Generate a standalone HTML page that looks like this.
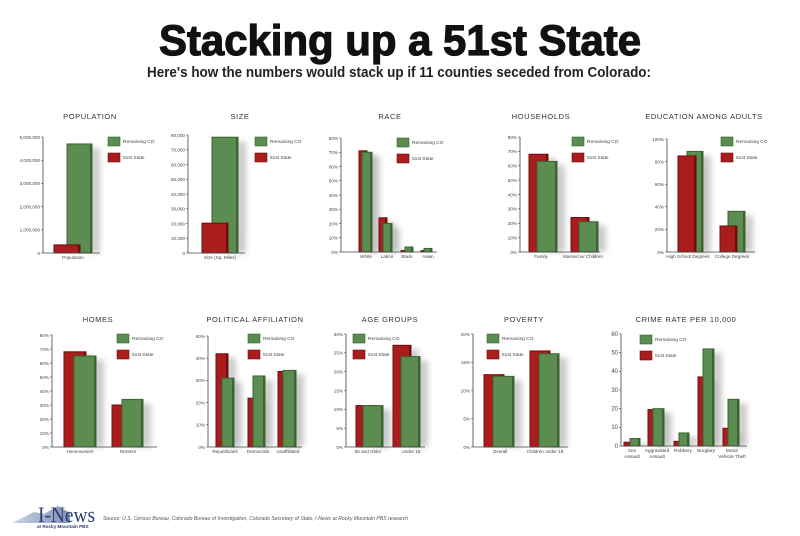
<!DOCTYPE html>
<html><head><meta charset="utf-8"><style>
html,body{margin:0;padding:0;background:#fff;}
svg{display:block;font-family:"Liberation Sans",sans-serif;}
</style></head><body>
<svg id="s" width="800" height="536" viewBox="0 0 800 536" xmlns="http://www.w3.org/2000/svg">
<defs>
<filter id="sh" x="-50%" y="-20%" width="250%" height="140%"><feGaussianBlur stdDeviation="3"/></filter>
<linearGradient id="mt" x1="0" y1="0" x2="1" y2="0"><stop offset="0" stop-color="#c9d3e3"/><stop offset="1" stop-color="#7f93b5"/></linearGradient>
</defs>
<text x="400" y="55" text-anchor="middle" font-size="43" font-weight="bold" fill="#111" textLength="482" lengthAdjust="spacingAndGlyphs" stroke="#111" stroke-width="1.2">Stacking up a 51st State</text>
<text x="399" y="77" text-anchor="middle" font-size="14.5" font-weight="bold" fill="#222" textLength="504" lengthAdjust="spacingAndGlyphs">Here's how the numbers would stack up if 11 counties seceded from Colorado:</text>
<g id="charts"></g>
<polygon points="12,523 34,512 44,514 58,506 70,513 70,523" fill="url(#mt)"/>
<text x="38" y="522" font-family="Liberation Serif,serif" font-size="22" fill="#2b3c73" textLength="57" lengthAdjust="spacingAndGlyphs">I-News</text>
<text x="37" y="528" font-size="4.6" font-weight="bold" fill="#2b3c73">at Rocky Mountain PBS</text>
<text x="103" y="520" font-size="5.2" font-style="italic" fill="#555" textLength="305" lengthAdjust="spacingAndGlyphs">Source: U.S. Census Bureau, Colorado Bureau of Investigation, Colorado Secretary of State, I-News at Rocky Mountain PBS research</text>
</svg>
<script>
var G='#5b8c50',GD='#3b6432',R='#a91d1d',RD='#6f0d0d';
var charts=[
{t:'POPULATION',tx:90,ty:119,ax:43,top:137,bot:253,max:5000000,step:1000000,fmt:function(v){return v.toLocaleString('en-US')},xe:100,lx:108,ly:137,
 b:[['g',67,92,4700000],['r',54,80,350000]],lab:[[73,'Population']]},
{t:'SIZE',tx:240,ty:119,ax:188,top:135,bot:253,max:80000,step:10000,fmt:function(v){return v.toLocaleString('en-US')},xe:245,lx:255,ly:137,
 b:[['g',212,238,78500],['r',202,228,20200]],lab:[[220,'Size (Sq. Miles)']]},
{t:'RACE',tx:390,ty:119,ax:341,top:138,bot:252,max:80,step:10,fmt:function(v){return v+'%'},xe:437,lx:397,ly:138,
 b:[['r',359,367,71],['g',362,372,70],['r',379,387,24],['g',383,392,20],['r',401,409,1],['g',405,413,3.5],['r',421,428,1],['g',424,432,2.5]],
 lab:[[366,'White'],[387,'Latino'],[407,'Black'],[428,'Asian']]},
{t:'HOUSEHOLDS',tx:541,ty:119,ax:520,top:137,bot:252,max:80,step:10,fmt:function(v){return v+'%'},xe:600,lx:572,ly:137,
 b:[['r',529,548,68],['g',537,557,63],['r',571,589,24],['g',579,598,21]],lab:[[541,'Family'],[583,'Married w/ Children']]},
{t:'EDUCATION AMONG ADULTS',tx:704,ty:119,ax:667,top:139,bot:252,max:100,step:20,fmt:function(v){return v+'%'},xe:755,lx:721,ly:137,
 b:[['g',687,703,89],['r',678,696,85],['g',728,745,36],['r',720,737,23]],lab:[[688,'High School Degrees'],[732,'College Degrees']]},
{t:'HOMES',tx:98,ty:322,ax:52,top:335,bot:447,max:80,step:10,fmt:function(v){return v+'%'},xe:157,lx:117,ly:334,
 b:[['r',64,86,68],['g',74,96,65],['r',112,133,30],['g',122,143,34]],lab:[[80,'Homeowners'],[128,'Renters']]},
{t:'POLITICAL AFFILIATION',tx:255,ty:322,ax:208,top:336,bot:447,max:50,step:10,fmt:function(v){return v+'%'},xe:302,lx:248,ly:334,
 b:[['r',216,228,42],['g',222,234,31],['r',248,259,22],['g',253,265,32],['r',278,288,34],['g',283,296,34.5]],lab:[[225,'Republicans'],[258,'Democrats'],[288,'Unaffiliated']]},
{t:'AGE GROUPS',tx:390,ty:322,ax:346,top:334,bot:447,max:30,step:5,fmt:function(v){return v+'%'},xe:425,lx:353,ly:334,
 b:[['r',356,375,11],['g',363,383,11],['r',393,411,27],['g',401,420,24]],lab:[[368,'65 and Older'],[411,'Under 18']]},
{t:'POVERTY',tx:524,ty:322,ax:473,top:334,bot:447,max:20,step:5,fmt:function(v){return v+'%'},xe:568,lx:487,ly:334,
 b:[['r',484,504,12.8],['g',493,514,12.5],['r',530,550,17],['g',539,559,16.5]],lab:[[500,'Overall'],[545,'Children under 18']]},
{t:'CRIME RATE PER 10,000',tx:686,ty:322,ax:621,top:334,bot:446,max:60,step:10,fmt:function(v){return ''+v},big:1,xe:747,lx:640,ly:335,
 b:[['r',624,634,2],['g',630,640,4],['r',648,658,19.5],['g',653,664,20],['r',674,683,2.5],['g',679,689,7],['r',698,708,37],['g',703,714,52],['r',723,733,9.5],['g',728,739,25]],
 lab:[[632,'Sex','Assault'],[657,'Aggravated','Assault'],[683,'Robbery'],[706,'Burglary'],[732,'Motor','Vehicle Theft']]}
];
var h='';
charts.forEach(function(c){
 h+='<text x="'+c.tx+'" y="'+c.ty+'" text-anchor="middle" font-size="7.5" letter-spacing="0.6" fill="#333">'+c.t+'</text>';
 var H=c.bot-c.top;
 c.b.forEach(function(b){var y=c.bot-H*b[3]/c.max;
  h+='<rect x="'+(b[2]-2)+'" y="'+(y+4)+'" width="10" height="'+(c.bot-y-4)+'" fill="#999" opacity="0.5" filter="url(#sh)"/>';});
 c.b.forEach(function(b){var y=c.bot-H*b[3]/c.max,col=b[0]=='g'?G:R,d=b[0]=='g'?GD:RD;
  h+='<rect x="'+b[1]+'" y="'+y+'" width="'+(b[2]-b[1])+'" height="'+(c.bot-y)+'" fill="'+col+'" stroke="'+d+'" stroke-width="1"/>';
  h+='<rect x="'+(b[2]-2)+'" y="'+y+'" width="2" height="'+(c.bot-y)+'" fill="'+d+'"/>';});
 h+='<line x1="'+c.ax+'" y1="'+c.top+'" x2="'+c.ax+'" y2="'+c.bot+'" stroke="#444" stroke-width="0.8"/>';
 h+='<line x1="'+c.ax+'" y1="'+c.bot+'" x2="'+c.xe+'" y2="'+c.bot+'" stroke="#444" stroke-width="0.8"/>';
 for(var v=0;v<=c.max;v+=c.step){var y=c.bot-H*v/c.max;
  h+='<line x1="'+(c.ax-2)+'" y1="'+y+'" x2="'+c.ax+'" y2="'+y+'" stroke="#444" stroke-width="0.6"/>';
  h+='<text x="'+(c.ax-3)+'" y="'+(y+1.8)+'" text-anchor="end" font-size="'+(c.big?6:4.6)+'" fill="#444">'+c.fmt(v)+'</text>';}
 c.lab.forEach(function(l){
  h+='<text x="'+l[0]+'" y="'+(c.bot+6)+'" text-anchor="middle" font-size="'+(c.big?4.8:4.6)+'" fill="#444">'+l[1]+'</text>';
  if(l[2])h+='<text x="'+l[0]+'" y="'+(c.bot+12)+'" text-anchor="middle" font-size="4.8" fill="#444">'+l[2]+'</text>';});
 h+='<rect x="'+c.lx+'" y="'+c.ly+'" width="12" height="9" fill="'+G+'" stroke="'+GD+'" stroke-width="0.6"/>';
 h+='<rect x="'+c.lx+'" y="'+(c.ly+16)+'" width="12" height="9" fill="'+R+'" stroke="'+RD+'" stroke-width="0.6"/>';
 h+='<text x="'+(c.lx+15)+'" y="'+(c.ly+6)+'" font-size="4.8" fill="#444">Remaining CO</text>';
 h+='<text x="'+(c.lx+15)+'" y="'+(c.ly+22)+'" font-size="4.8" fill="#444">51st State</text>';
});
document.getElementById('charts').innerHTML=h;
</script>
</body></html>
